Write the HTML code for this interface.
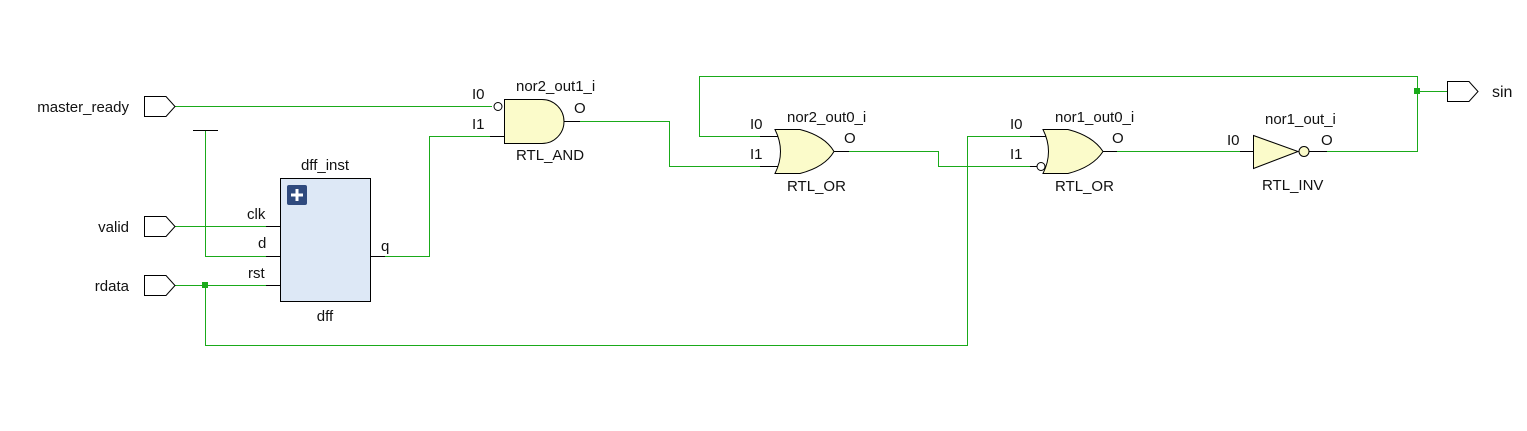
<!DOCTYPE html>
<html><head><meta charset="utf-8"><style>
html,body{margin:0;padding:0;background:#fff;}
svg text{font-family:"Liberation Sans",sans-serif;font-size:15px;fill:#111;}
</style></head><body>
<svg width="1527" height="426" viewBox="0 0 1527 426" xmlns="http://www.w3.org/2000/svg">
<g fill="none" stroke="#1aaa1a" stroke-width="1">
<path d="M175 106.5H492"/>
<path d="M205.5 285.5V345.5H967.5V136.5H1030"/>
<path d="M175 226.5H266"/>
<path d="M205.5 131V256.5H266"/>
<path d="M175 285.5H266"/>
<path d="M385 256.5H429.5V136.5H490"/>
<path d="M580 121.5H669.5V166.5H760"/>
<path d="M849 151.5H938.5V166.5H1030"/>
<path d="M1117 151.5H1240"/>
<path d="M1327 151.5H1417.5V76.5H699.5V136.5H760"/>
<path d="M1417.5 91.5H1447"/>
</g>
<rect x="202" y="282" width="6" height="6" fill="#1aaa1a"/>
<rect x="1414" y="88" width="6" height="6" fill="#1aaa1a"/>
<g fill="none" stroke="#000" stroke-width="1">
<path d="M144.5 96.5H166L175 106.5L166 116.5H144.5Z"/>
<path d="M144.5 216.5H166L175 226.5L166 236.5H144.5Z"/>
<path d="M144.5 275.5H166L175 285.5L166 295.5H144.5Z"/>
<path d="M1447.5 81.5H1469L1478 91.5L1469 101.5H1447.5Z"/>
<path d="M193 130.5H218"/>
<path d="M266 226.5H296M266 256.5H296M266 285.5H296M355 256.5H385"/>
<path d="M490 136.5H504M564 121.5H580"/>
<path d="M760 136.5H780M760 166.5H780M834 151.5H849"/>
<path d="M1030 136.5H1048M1030 166.5H1037M1103 151.5H1117"/>
<path d="M1240 151.5H1253M1309 151.5H1327"/>
</g>
<rect x="280.5" y="178.5" width="90" height="123" fill="#dde8f6" stroke="#000"/>
<rect x="287" y="185" width="20" height="20" rx="2" fill="#2f4a7e"/>
<path d="M297 189V201M291 195H303" stroke="#fff" stroke-width="3"/>
<circle cx="498" cy="106.5" r="4" fill="#fff" stroke="#000"/>
<path d="M504.5 99.5H542A22 22 0 0 1 542 143.5H504.5Z" fill="#fbfbca" stroke="#000"/>
<path d="M775 129.5H800Q825 136 834 151.5Q825 167 800 173.5H775Q786 151.5 775 129.5Z" fill="#fbfbca" stroke="#000"/>
<path d="M1043 129.5H1068Q1093 136 1103 151.5Q1093 167 1068 173.5H1043Q1054 151.5 1043 129.5Z" fill="#fbfbca" stroke="#000"/>
<circle cx="1041" cy="166.5" r="4" fill="#fff" stroke="#000"/>
<path d="M1253.5 135.5L1298 151.5L1253.5 168.5Z" fill="#fbfbca" stroke="#000"/>
<circle cx="1304" cy="151.5" r="5" fill="#fbfbca" stroke="#000"/>
<g style="font-size:16px" text-anchor="end">
<text x="129" y="112">master_ready</text>
<text x="129" y="232">valid</text>
<text x="129" y="291">rdata</text>
</g>
<text x="1492" y="97" style="font-size:16px">sin</text>
<text x="325" y="170" text-anchor="middle">dff_inst</text>
<text x="325" y="321" text-anchor="middle">dff</text>
<text x="247" y="219">clk</text>
<text x="258" y="248">d</text>
<text x="248" y="278">rst</text>
<text x="381" y="251">q</text>
<text x="516" y="91">nor2_out1_i</text>
<text x="472" y="99">I0</text>
<text x="472" y="129">I1</text>
<text x="574" y="113">O</text>
<text x="516" y="160">RTL_AND</text>
<text x="787" y="122">nor2_out0_i</text>
<text x="750" y="129">I0</text>
<text x="750" y="159">I1</text>
<text x="844" y="143">O</text>
<text x="787" y="191">RTL_OR</text>
<text x="1055" y="122">nor1_out0_i</text>
<text x="1010" y="129">I0</text>
<text x="1010" y="159">I1</text>
<text x="1112" y="143">O</text>
<text x="1055" y="191">RTL_OR</text>
<text x="1265" y="124">nor1_out_i</text>
<text x="1227" y="145">I0</text>
<text x="1321" y="145">O</text>
<text x="1262" y="190">RTL_INV</text>
</svg>
</body></html>
